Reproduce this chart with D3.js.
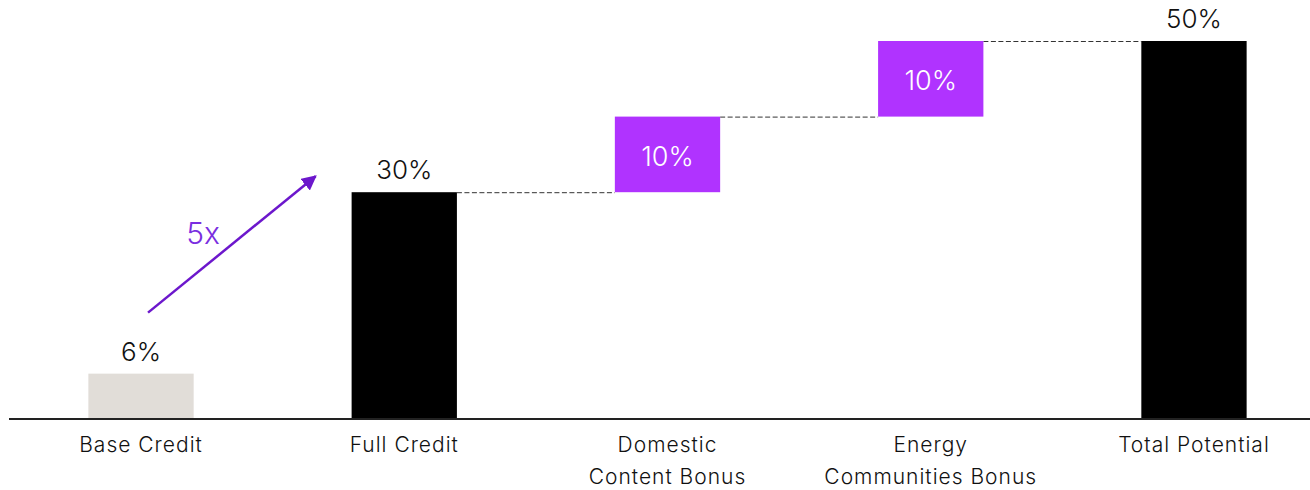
<!DOCTYPE html>
<html>
<head>
<meta charset="utf-8">
<script src="https://cdn.jsdelivr.net/npm/d3@7"></script>
<style>
  html, body { margin: 0; padding: 0; background: #fff; }
  svg { display: block; font-family: Inter, "Noto Sans", sans-serif; }
</style>
</head>
<body>
<svg id="chart" width="1310" height="490"></svg>
<script>
// Tax credit waterfall: base -> full -> bonuses -> total
const categories = ["Base Credit", "Full Credit", "Domestic Content Bonus", "Energy Communities Bonus", "Total Potential"];
const labelLines = [["Base Credit"], ["Full Credit"], ["Domestic", "Content Bonus"], ["Energy", "Communities Bonus"], ["Total Potential"]];
const barStart = [0, 0, 30, 40, 0];
const barEnd = [6, 30, 40, 50, 50];
const barKind = ["base", "total", "bonus", "bonus", "total"];
const valueLabels = ["6%", "30%", "10%", "10%", "50%"];
const multiplierLabel = "5x";

const colors = { base: "#e1ddd8", total: "#000000", bonus: "#b033ff", arrow: "#6c17cc" };

const svg = d3.select("#chart");

const x = d3.scaleBand()
  .domain(categories)
  .range([9.4, 1325.6])
  .paddingInner(0.6)
  .paddingOuter(0.3);

const y = d3.scaleLinear().domain([0, 50]).range([419, 41]);

const data = categories.map((c, i) => ({
  cat: c, start: barStart[i], end: barEnd[i], kind: barKind[i], label: valueLabels[i], lines: labelLines[i]
}));

// Dashed connectors between consecutive bar tops
const connectors = svg.append("g");
for (let i = 1; i < data.length; i++) {
  const prev = data[i - 1], cur = data[i];
  if (cur.kind === "bonus" || cur.kind === "total" && prev.kind === "bonus") {
    connectors.append("line")
      .attr("x1", x(prev.cat) + x.bandwidth())
      .attr("x2", x(cur.cat))
      .attr("y1", y(prev.end) + 0.5)
      .attr("y2", y(prev.end) + 0.5)
      .attr("stroke", "#333")
      .attr("stroke-width", 1)
      .attr("stroke-dasharray", "5,2.5");
  }
}

// Bars
svg.append("g").selectAll("rect")
  .data(data)
  .join("rect")
  .attr("x", d => x(d.cat))
  .attr("width", x.bandwidth())
  .attr("y", d => y(d.end))
  .attr("height", d => y(d.start) - y(d.end))
  .attr("fill", d => colors[d.kind]);

// Baseline
svg.append("line")
  .attr("x1", 9).attr("x2", 1310)
  .attr("y1", y(0)).attr("y2", y(0))
  .attr("stroke", "#222")
  .attr("stroke-width", 2);

// Value labels
svg.append("g").selectAll("text")
  .data(data)
  .join("text")
  .attr("x", d => x(d.cat) + x.bandwidth() / 2)
  .attr("y", d => d.kind === "bonus" ? (y(d.start) + y(d.end)) / 2 + 11.5 : y(d.end) - 13)
  .attr("text-anchor", "middle")
  .attr("font-size", d => d.kind === "bonus" ? 27 : 26)
  .attr("font-weight", 300)
  .attr("fill", d => d.kind === "bonus" ? "#fff" : "#111")
  .text(d => d.label);

// Category labels
const catG = svg.append("g").selectAll("text")
  .data(data)
  .join("text")
  .attr("x", d => x(d.cat) + x.bandwidth() / 2)
  .attr("y", 452)
  .attr("text-anchor", "middle")
  .attr("font-size", 21)
  .attr("font-weight", 300)
  .attr("letter-spacing", 1)
  .attr("fill", "#111");
catG.selectAll("tspan")
  .data(d => d.lines.map((t, j) => ({ t, j, cx: x(d.cat) + x.bandwidth() / 2 })))
  .join("tspan")
  .attr("x", d => d.cx)
  .attr("dy", d => d.j === 0 ? 0 : 32)
  .text(d => d.t);

// Growth arrow from base credit to full credit
svg.append("defs").append("marker")
  .attr("id", "arrowhead")
  .attr("viewBox", "0 0 10 10")
  .attr("refX", 9).attr("refY", 5)
  .attr("markerWidth", 6).attr("markerHeight", 6)
  .attr("markerUnits", "strokeWidth")
  .attr("orient", "auto")
  .append("path")
  .attr("d", "M0,0 L10,5 L0,10 Z")
  .attr("fill", colors.arrow);

const ax1 = x(categories[0]) + x.bandwidth() / 2 + 7;
const ay1 = y(barEnd[0]) - 61;
const ax2 = x(categories[1]) - 36;
const ay2 = y(barEnd[1]) - 16;
svg.append("line")
  .attr("x1", ax1).attr("y1", ay1)
  .attr("x2", ax2).attr("y2", ay2)
  .attr("stroke", colors.arrow)
  .attr("stroke-width", 2.5)
  .attr("marker-end", "url(#arrowhead)");

svg.append("text")
  .attr("x", 203)
  .attr("y", 244)
  .attr("text-anchor", "middle")
  .attr("font-size", 30)
  .attr("font-weight", 300)
  .attr("fill", "#7a2ee0")
  .text(multiplierLabel);
</script>
</body>
</html>
